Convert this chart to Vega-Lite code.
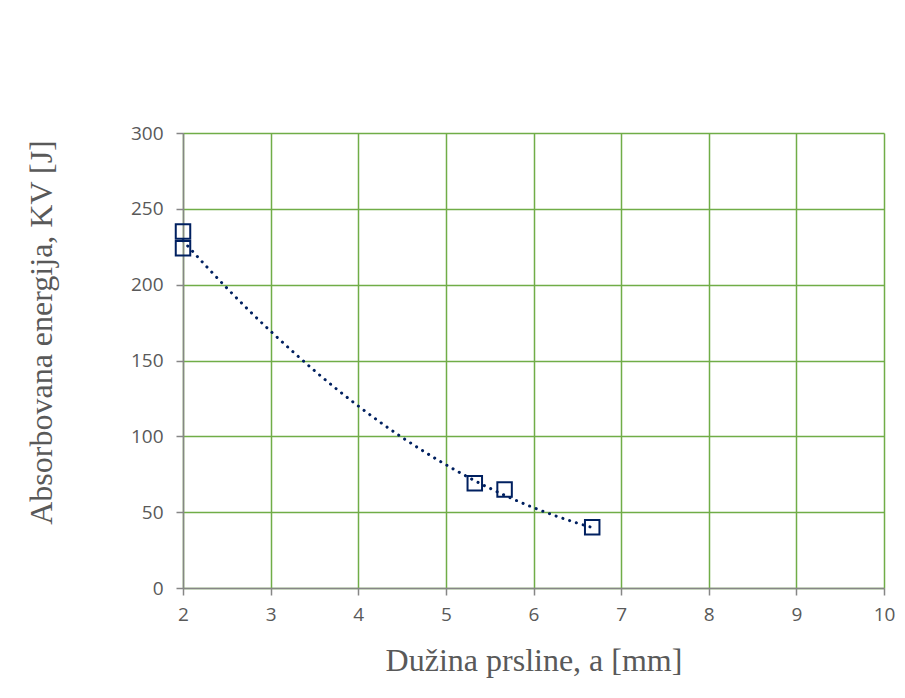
{
  "$schema": "https://vega.github.io/schema/vega-lite/v6.json",
  "width": 701,
  "height": 455,
  "autosize": {"type": "none"},
  "padding": {"left": 183, "top": 133, "right": 21, "bottom": 110},
  "background": "white",
  "config": {
    "view": {"stroke": null},
    "axis": {
      "gridColor": "#70AD47",
      "gridWidth": 1.5,
      "domainColor": "#868686",
      "domainWidth": 1.5,
      "tickColor": "#868686",
      "tickWidth": 1.5,
      "tickSize": 7,
      "labelFont": "Open Sans",
      "labelFontSize": 19,
      "labelColor": "#595959",
      "labelOverlap": false,
      "labelFlush": false,
      "titleFont": "Liberation Serif",
      "titleFontSize": 32,
      "titleFontWeight": "normal",
      "titleColor": "#595959"
    }
  },
  "datasets": {
    "points": [
      {"a": 2.0, "kv": 235},
      {"a": 2.0, "kv": 224},
      {"a": 5.33, "kv": 69},
      {"a": 5.67, "kv": 65},
      {"a": 6.67, "kv": 40}
    ],
    "trend": [
      {"a": 2.0, "kv": 229.0},
      {"a": 2.25, "kv": 213.1},
      {"a": 2.5, "kv": 197.8},
      {"a": 2.75, "kv": 183.2},
      {"a": 3.0, "kv": 169.3},
      {"a": 3.25, "kv": 156.0},
      {"a": 3.5, "kv": 143.3},
      {"a": 3.75, "kv": 131.3},
      {"a": 4.0, "kv": 120.0},
      {"a": 4.25, "kv": 109.3},
      {"a": 4.5, "kv": 99.3},
      {"a": 4.75, "kv": 90.0},
      {"a": 5.0, "kv": 81.3},
      {"a": 5.25, "kv": 73.2},
      {"a": 5.5, "kv": 65.8},
      {"a": 5.75, "kv": 59.1},
      {"a": 6.0, "kv": 53.0},
      {"a": 6.25, "kv": 47.6},
      {"a": 6.5, "kv": 42.8},
      {"a": 6.67, "kv": 39.9}
    ]
  },
  "encoding": {
    "x": {
      "field": "a", "type": "quantitative",
      "scale": {"domain": [2, 10], "nice": false, "zero": false},
      "axis": {"title": "Dužina prsline, a [mm]", "values": [2,3,4,5,6,7,8,9,10], "labelPadding": 10, "titlePadding": 21}
    },
    "y": {
      "field": "kv", "type": "quantitative",
      "scale": {"domain": [0, 300], "nice": false},
      "axis": {"title": "Absorbovana energija, KV [J]", "values": [0,50,100,150,200,250,300], "labelPadding": 13, "titlePadding": 72, "titleY": 199}
    }
  },
  "layer": [
    {
      "data": {"name": "trend"},
      "mark": {"type": "line", "color": "#002060", "strokeWidth": 3, "strokeDash": [0.1, 7], "strokeCap": "round", "interpolate": "monotone"}
    },
    {
      "data": {"name": "points"},
      "mark": {"type": "point", "shape": "square", "size": 210, "filled": false, "color": "#002060", "strokeWidth": 2, "opacity": 1}
    }
  ]
}
